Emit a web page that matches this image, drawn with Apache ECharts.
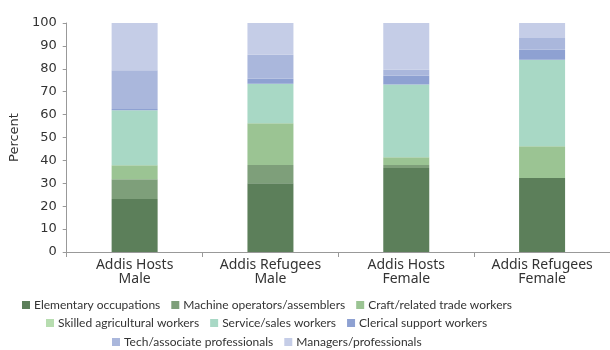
<!DOCTYPE html>
<html>
<head>
<meta charset="utf-8">
<script src="https://cdn.jsdelivr.net/npm/echarts@6/dist/echarts.min.js"></script>
<style>html,body{margin:0;padding:0;background:#fff}#c{width:610px;height:350px}</style>
</head>
<body>
<div id="c"></div>
<script>
var categories = ['Addis Hosts\nMale', 'Addis Refugees\nMale', 'Addis Hosts\nFemale', 'Addis Refugees\nFemale'];
var seriesNames = ['Elementary occupations', 'Machine operators/assemblers', 'Craft/related trade workers',
  'Skilled agricultural workers', 'Service/sales workers', 'Clerical support workers',
  'Tech/associate professionals', 'Managers/professionals'];
var elementary = [23.1, 30.0, 36.7, 32.3];
var machine = [8.7, 8.0, 1.3, 0];
var craft = [6.1, 18.2, 3.4, 13.9];
var skilledAgri = [0, 0, 0, 0];
var service = [24.0, 17.3, 31.7, 37.7];
var clerical = [0.5, 2.2, 3.9, 4.4];
var tech = [17.0, 10.4, 2.6, 5.2];
var managers = [20.6, 13.9, 20.4, 6.5];
var yTicks = [0, 10, 20, 30, 40, 50, 60, 70, 80, 90, 100];

var values = [elementary, machine, craft, skilledAgri, service, clerical, tech, managers];
var colors = ['#5c7f5a', '#7e9f7a', '#9bc493', '#b7ddb0', '#a8d8c5', '#8ea1d2', '#aab7dc', '#c5cde7'];
var legendFont = 'Lato';
var legendSize = 12;
var series = seriesNames.map(function (n, i) {
  return { name: n, type: 'bar', stack: 'all', barWidth: 46, data: values[i],
    itemStyle: { color: colors[i] } };
});
var ctx = document.createElement('canvas').getContext('2d');
ctx.font = legendSize + 'px ' + legendFont;
function legend(names, top) {
  var iw = 8, gap = 11, textGap = 4;
  var w = 0;
  names.forEach(function (n, i) { w += iw + textGap + ctx.measureText(n).width + (i ? gap : 0); });
  return { data: names, top: top, left: Math.round(267 - w / 2), padding: 0, itemWidth: iw, itemHeight: 8,
    itemGap: gap, icon: 'rect',
    textStyle: { fontFamily: legendFont, fontSize: legendSize, color: '#333', padding: [0, 0, 0, -1] } };
}
var chart = echarts.init(document.getElementById('c'));
chart.setOption({
  animation: false,
  grid: { left: 59, top: 23, width: 552, height: 229 },
  legend: [legend(seriesNames.slice(0, 3), 299), legend(seriesNames.slice(3, 6), 317), legend(seriesNames.slice(6), 336)],
  xAxis: { type: 'category', data: categories,
    axisLine: { lineStyle: { color: '#999' } },
    axisTick: { show: true, length: 5, lineStyle: { color: '#999' } },
    axisLabel: { fontFamily: 'Noto Sans', fontSize: 14, color: '#333', lineHeight: 14, margin: 6 } },
  yAxis: { type: 'value', min: yTicks[0], max: yTicks[yTicks.length - 1], interval: 10,
    name: 'Percent', nameLocation: 'middle', nameGap: 38,
    nameTextStyle: { fontFamily: 'DejaVu Sans', fontSize: 13, color: '#333' },
    axisLine: { show: true, lineStyle: { color: '#999' } },
    axisTick: { show: true, length: 4, lineStyle: { color: '#999' } },
    splitLine: { show: false },
    axisLabel: { fontFamily: 'DejaVu Sans', fontSize: 13, color: '#333', margin: 10 } },
  series: series
});
</script>
</body>
</html>
